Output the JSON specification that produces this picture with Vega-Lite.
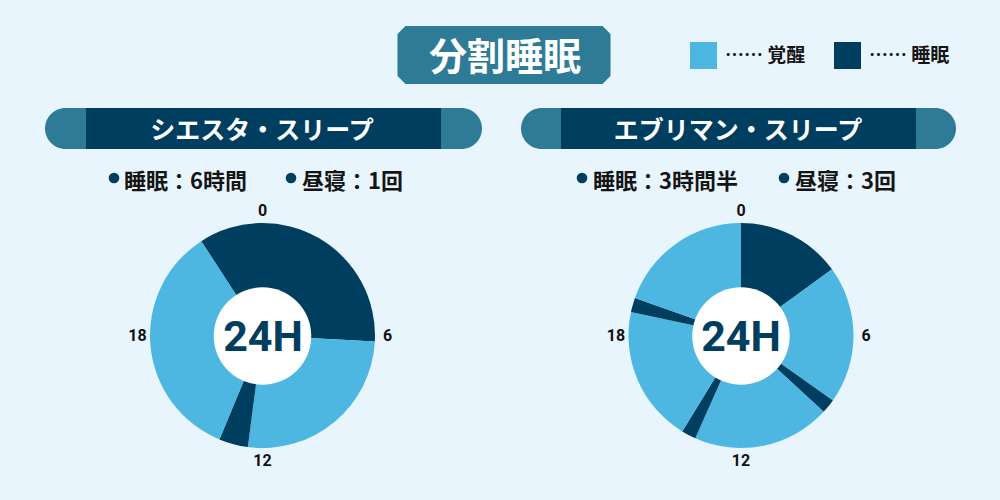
{
  "$schema": "https://vega.github.io/schema/vega-lite/v6.json",
  "width": 1000,
  "height": 500,
  "padding": 0,
  "autosize": {"type": "fit", "contains": "padding"},
  "background": "#E9F5FD",
  "config": {"view": {"stroke": null}, "font": "Noto Sans CJK JP"},
  "data": {"values": [{}]},
  "datasets": {
    "siesta": [
      {"state": "睡眠", "start": -2.2, "end": 6.2},
      {"state": "覚醒", "start": 6.2, "end": 12.5},
      {"state": "睡眠", "start": 12.5, "end": 13.5},
      {"state": "覚醒", "start": 13.5, "end": 21.8}
    ],
    "everyman": [
      {"state": "睡眠", "start": 0, "end": 3.6},
      {"state": "覚醒", "start": 3.6, "end": 8.35},
      {"state": "睡眠", "start": 8.35, "end": 8.85},
      {"state": "覚醒", "start": 8.85, "end": 13.6},
      {"state": "睡眠", "start": 13.6, "end": 14.1},
      {"state": "覚醒", "start": 14.1, "end": 18.8},
      {"state": "睡眠", "start": 18.8, "end": 19.3},
      {"state": "覚醒", "start": 19.3, "end": 24}
    ],
    "hours": [
      {"hour": 0, "label": "0"},
      {"hour": 6, "label": "6"},
      {"hour": 12, "label": "12"},
      {"hour": 18, "label": "18"}
    ]
  },
  "layer": [
    {
      "mark": {"type": "point", "filled": true, "opacity": 1, "strokeWidth": 0, "color": "#2E7B98",
        "shape": "M -0.925 -0.272 L 0.925 -0.272 L 1 -0.197 L 1 0.197 L 0.925 0.272 L -0.925 0.272 L -1 0.197 L -1 -0.197 Z", "size": 45369},
      "encoding": {
        "x": {"datum": 504, "type": "quantitative", "scale": {"domain": [0, 1000], "nice": false, "zero": false}, "axis": null},
        "y": {"datum": 55, "type": "quantitative", "scale": {"domain": [0, 500], "reverse": true, "nice": false, "zero": false}, "axis": null}
      }
    },
    {
      "mark": {"type": "text", "text": "分割睡眠", "font": "Noto Sans CJK JP", "fontWeight": "bold", "fontSize": 38, "color": "#FFFFFF", "align": "center", "baseline": "middle"},
      "encoding": {
        "x": {"datum": 505, "type": "quantitative", "axis": null},
        "y": {"datum": 59, "type": "quantitative", "axis": null}
      }
    },
    {
      "mark": {"type": "rect", "color": "#2E7B98", "cornerRadius": 20.5},
      "encoding": {
        "x": {"datum": 45, "type": "quantitative", "axis": null}, "x2": {"datum": 482},
        "y": {"datum": 108, "type": "quantitative", "axis": null}, "y2": {"datum": 149}
      }
    },
    {
      "mark": {"type": "rect", "color": "#003E60"},
      "encoding": {
        "x": {"datum": 86, "type": "quantitative", "axis": null}, "x2": {"datum": 441},
        "y": {"datum": 108, "type": "quantitative", "axis": null}, "y2": {"datum": 149}
      }
    },
    {
      "mark": {"type": "rect", "color": "#2E7B98", "cornerRadius": 20.5},
      "encoding": {
        "x": {"datum": 521, "type": "quantitative", "axis": null}, "x2": {"datum": 956},
        "y": {"datum": 108, "type": "quantitative", "axis": null}, "y2": {"datum": 149}
      }
    },
    {
      "mark": {"type": "rect", "color": "#003E60"},
      "encoding": {
        "x": {"datum": 561, "type": "quantitative", "axis": null}, "x2": {"datum": 916},
        "y": {"datum": 108, "type": "quantitative", "axis": null}, "y2": {"datum": 149}
      }
    },
    {
      "mark": {"type": "text", "text": "シエスタ・スリープ", "fontWeight": "bold", "fontSize": 25, "color": "#FFFFFF", "align": "center", "baseline": "middle"},
      "encoding": {
        "x": {"datum": 262, "type": "quantitative", "axis": null},
        "y": {"datum": 131, "type": "quantitative", "axis": null}
      }
    },
    {
      "mark": {"type": "text", "text": "エブリマン・スリープ", "fontWeight": "bold", "fontSize": 25, "color": "#FFFFFF", "align": "center", "baseline": "middle"},
      "encoding": {
        "x": {"datum": 738, "type": "quantitative", "axis": null},
        "y": {"datum": 131, "type": "quantitative", "axis": null}
      }
    },
    {
      "mark": {"type": "point", "shape": "circle", "filled": true, "opacity": 1, "size": 113, "color": "#003E60"},
      "encoding": {"x": {"datum": 114, "type": "quantitative", "axis": null}, "y": {"datum": 178, "type": "quantitative", "axis": null}}
    },
    {
      "mark": {"type": "point", "shape": "circle", "filled": true, "opacity": 1, "size": 113, "color": "#003E60"},
      "encoding": {"x": {"datum": 291, "type": "quantitative", "axis": null}, "y": {"datum": 178, "type": "quantitative", "axis": null}}
    },
    {
      "mark": {"type": "point", "shape": "circle", "filled": true, "opacity": 1, "size": 113, "color": "#003E60"},
      "encoding": {"x": {"datum": 582, "type": "quantitative", "axis": null}, "y": {"datum": 178, "type": "quantitative", "axis": null}}
    },
    {
      "mark": {"type": "point", "shape": "circle", "filled": true, "opacity": 1, "size": 113, "color": "#003E60"},
      "encoding": {"x": {"datum": 784, "type": "quantitative", "axis": null}, "y": {"datum": 178, "type": "quantitative", "axis": null}}
    },
    {
      "mark": {"type": "text", "text": "睡眠：6時間", "fontWeight": "bold", "fontSize": 22, "color": "#151515", "align": "left", "baseline": "middle"},
      "encoding": {"x": {"datum": 124, "type": "quantitative", "axis": null}, "y": {"datum": 182, "type": "quantitative", "axis": null}}
    },
    {
      "mark": {"type": "text", "text": "昼寝：1回", "fontWeight": "bold", "fontSize": 22, "color": "#151515", "align": "left", "baseline": "middle"},
      "encoding": {"x": {"datum": 302, "type": "quantitative", "axis": null}, "y": {"datum": 182, "type": "quantitative", "axis": null}}
    },
    {
      "mark": {"type": "text", "text": "睡眠：3時間半", "fontWeight": "bold", "fontSize": 22, "color": "#151515", "align": "left", "baseline": "middle"},
      "encoding": {"x": {"datum": 593, "type": "quantitative", "axis": null}, "y": {"datum": 182, "type": "quantitative", "axis": null}}
    },
    {
      "mark": {"type": "text", "text": "昼寝：3回", "fontWeight": "bold", "fontSize": 22, "color": "#151515", "align": "left", "baseline": "middle"},
      "encoding": {"x": {"datum": 795, "type": "quantitative", "axis": null}, "y": {"datum": 182, "type": "quantitative", "axis": null}}
    },
    {
      "data": {"name": "siesta"},
      "mark": {"type": "arc", "outerRadius": 112.5, "innerRadius": 0},
      "encoding": {
        "x": {"datum": 262.5, "type": "quantitative", "axis": null},
        "y": {"datum": 335.5, "type": "quantitative", "axis": null},
        "theta": {"field": "start", "type": "quantitative", "stack": null, "scale": {"domain": [0, 24], "nice": false, "zero": true}},
        "theta2": {"field": "end"},
        "color": {"field": "state", "type": "nominal",
          "scale": {"domain": ["覚醒", "睡眠"], "range": ["#4DB7E2", "#003E60"]},
          "legend": {"orient": "none", "legendX": 690, "legendY": 42, "direction": "horizontal", "title": null,
            "symbolType": "square", "symbolSize": 729, "symbolStrokeWidth": 0, "symbolOpacity": 1,
            "labelExpr": "'…… ' + datum.label", "labelFont": "Noto Sans CJK JP", "labelFontSize": 19, "labelFontWeight": "bold",
            "labelColor": "#151515", "labelOffset": 8, "columnPadding": 28, "padding": 0}}
      }
    },
    {
      "data": {"name": "everyman"},
      "mark": {"type": "arc", "outerRadius": 112.5, "innerRadius": 0},
      "encoding": {
        "x": {"datum": 741, "type": "quantitative", "axis": null},
        "y": {"datum": 335.5, "type": "quantitative", "axis": null},
        "theta": {"field": "start", "type": "quantitative", "stack": null},
        "theta2": {"field": "end"},
        "color": {"field": "state", "type": "nominal"}
      }
    },
    {
      "mark": {"type": "point", "shape": "circle", "filled": true, "opacity": 1, "size": 9503, "color": "#FFFFFF"},
      "encoding": {"x": {"datum": 262.5, "type": "quantitative", "axis": null}, "y": {"datum": 336, "type": "quantitative", "axis": null}}
    },
    {
      "mark": {"type": "point", "shape": "circle", "filled": true, "opacity": 1, "size": 9503, "color": "#FFFFFF"},
      "encoding": {"x": {"datum": 741, "type": "quantitative", "axis": null}, "y": {"datum": 336, "type": "quantitative", "axis": null}}
    },
    {
      "mark": {"type": "text", "text": "24H", "font": "Roboto", "fontWeight": "bold", "fontSize": 43, "color": "#003E60", "align": "center", "baseline": "alphabetic"},
      "encoding": {"x": {"datum": 263, "type": "quantitative", "axis": null}, "y": {"datum": 351, "type": "quantitative", "axis": null}}
    },
    {
      "mark": {"type": "text", "text": "24H", "font": "Roboto", "fontWeight": "bold", "fontSize": 43, "color": "#003E60", "align": "center", "baseline": "alphabetic"},
      "encoding": {"x": {"datum": 741, "type": "quantitative", "axis": null}, "y": {"datum": 351, "type": "quantitative", "axis": null}}
    },
    {
      "data": {"name": "hours"},
      "mark": {"type": "text", "font": "Roboto", "fontWeight": "bold", "fontSize": 16, "color": "#111111", "align": "center", "baseline": "middle"},
      "encoding": {
        "x": {"datum": 262.5, "type": "quantitative", "axis": null},
        "y": {"datum": 336, "type": "quantitative", "axis": null},
        "theta": {"field": "hour", "type": "quantitative"},
        "radius": {"value": 125},
        "text": {"field": "label"}
      }
    },
    {
      "data": {"name": "hours"},
      "mark": {"type": "text", "font": "Roboto", "fontWeight": "bold", "fontSize": 16, "color": "#111111", "align": "center", "baseline": "middle"},
      "encoding": {
        "x": {"datum": 741, "type": "quantitative", "axis": null},
        "y": {"datum": 336, "type": "quantitative", "axis": null},
        "theta": {"field": "hour", "type": "quantitative"},
        "radius": {"value": 125},
        "text": {"field": "label"}
      }
    }
  ]
}
